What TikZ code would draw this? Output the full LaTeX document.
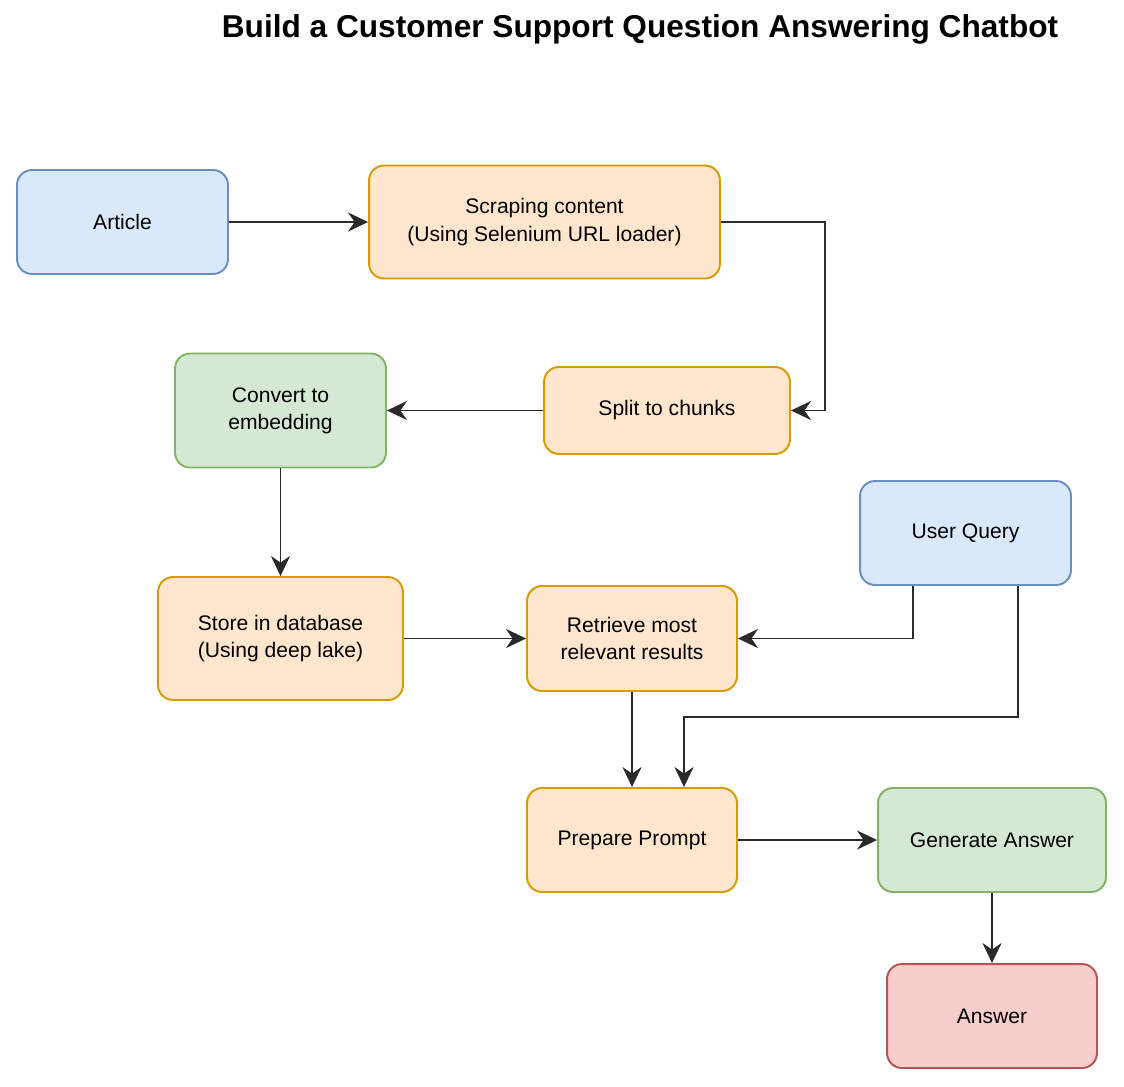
\documentclass[tikz,border=0pt]{standalone}
\usepackage{fontspec}
\setmainfont{Liberation Sans}
\usetikzlibrary{arrows.meta}
\definecolor{blueFill}{HTML}{DAE8FC}
\definecolor{blueLine}{HTML}{6C8EBF}
\definecolor{orangeFill}{HTML}{FFE6CC}
\definecolor{orangeLine}{HTML}{D79B00}
\definecolor{greenFill}{HTML}{D5E8D4}
\definecolor{greenLine}{HTML}{82B366}
\definecolor{redFill}{HTML}{F8CECC}
\definecolor{redLine}{HTML}{B85450}
\definecolor{edgeGray}{HTML}{2A2A2A}
\tikzset{
  box/.style={rounded corners=0.3cm, line width=1.1pt, align=center,
    font=\fontsize{12}{15.5}\selectfont, inner sep=0pt},
  bluebox/.style={box, draw=blueLine, fill=blueFill},
  orangebox/.style={box, draw=orangeLine, fill=orangeFill},
  greenbox/.style={box, draw=greenLine, fill=greenFill},
  redbox/.style={box, draw=redLine, fill=redFill},
  flow/.style={draw=edgeGray, line width=1.1pt,
    -{Stealth[length=0.4cm,width=0.38cm,inset=0.13cm]}}
}
\begin{document}
\begin{tikzpicture}[x=0.02cm,y=-0.02cm]
\useasboundingbox (0,0) rectangle (1124,1086);
\node[font=\bfseries\fontsize{18}{21}\selectfont] (title) at (640,29) {Build a Customer Support Question Answering Chatbot};

% boxes
\node[bluebox, minimum width=4.22cm, minimum height=2.08cm] (article) at (122.5,222) {Article};
\node[orangebox, minimum width=7.02cm, minimum height=2.26cm] (scrape) at (544.5,222) {Scraping content\\(Using Selenium URL loader)};
\node[orangebox, minimum width=4.92cm, minimum height=1.74cm] (split) at (667,410.5) {Split to chunks};
\node[greenbox, minimum width=4.22cm, minimum height=2.28cm] (embed) at (280.5,410.5) {Convert to\\embedding};
\node[orangebox, minimum width=4.9cm, minimum height=2.46cm] (store) at (280.5,638.5) {Store in database\\(Using deep lake)};
\node[orangebox, minimum width=4.2cm, minimum height=2.1cm] (retrieve) at (632,638.5) {Retrieve most\\relevant results};
\node[bluebox, minimum width=4.22cm, minimum height=2.08cm] (query) at (965.5,533) {User Query};
\node[orangebox, minimum width=4.2cm, minimum height=2.08cm] (prompt) at (632,840) {Prepare Prompt};
\node[greenbox, minimum width=4.56cm, minimum height=2.08cm] (generate) at (992,840) {Generate Answer};
\node[redbox, minimum width=4.2cm, minimum height=2.08cm] (answer) at (992,1016) {Answer};

% connectors
\draw[flow] (article) -- (scrape);
\draw[flow] (scrape.east) -- (825,222) |- (split.east);
\draw[flow] (split) -- (embed);
\draw[flow] (embed) -- (store);
\draw[flow] (store) -- (retrieve);
\draw[flow] (query.south -| 913,0) |- (retrieve.east);
\draw[flow] (query.south -| 1018,0) |- (684,717) -- (prompt.north -| 684,0);
\draw[flow] (retrieve) -- (prompt);
\draw[flow] (prompt) -- (generate);
\draw[flow] (generate) -- (answer);
\end{tikzpicture}
\end{document}
